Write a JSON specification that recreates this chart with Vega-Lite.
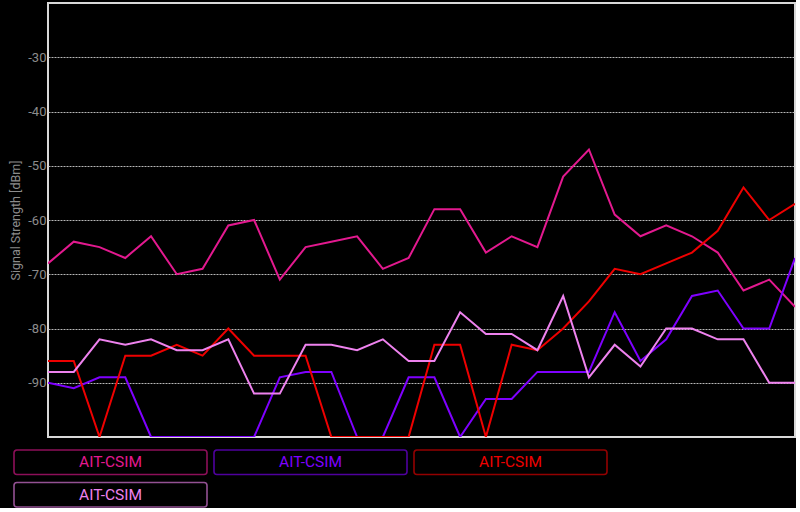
{
  "$schema": "https://vega.github.io/schema/vega-lite/v6.json",
  "background": "black",
  "padding": {"left": 8, "top": 2, "right": 0, "bottom": 0},
  "config": {"font": "Roboto", "view": {"stroke": "#d8d8d8", "strokeWidth": 2}},
  "spacing": 11,
  "datasets": {
    "signal": [
      {"i":0,"series":"A","dbm":-68},{"i":1,"series":"A","dbm":-64},{"i":2,"series":"A","dbm":-65},{"i":3,"series":"A","dbm":-67},{"i":4,"series":"A","dbm":-63},{"i":5,"series":"A","dbm":-70},{"i":6,"series":"A","dbm":-69},{"i":7,"series":"A","dbm":-61},{"i":8,"series":"A","dbm":-60},{"i":9,"series":"A","dbm":-71},{"i":10,"series":"A","dbm":-65},{"i":11,"series":"A","dbm":-64},{"i":12,"series":"A","dbm":-63},{"i":13,"series":"A","dbm":-69},{"i":14,"series":"A","dbm":-67},{"i":15,"series":"A","dbm":-58},{"i":16,"series":"A","dbm":-58},{"i":17,"series":"A","dbm":-66},{"i":18,"series":"A","dbm":-63},{"i":19,"series":"A","dbm":-65},{"i":20,"series":"A","dbm":-52},{"i":21,"series":"A","dbm":-47},{"i":22,"series":"A","dbm":-59},{"i":23,"series":"A","dbm":-63},{"i":24,"series":"A","dbm":-61},{"i":25,"series":"A","dbm":-63},{"i":26,"series":"A","dbm":-66},{"i":27,"series":"A","dbm":-73},{"i":28,"series":"A","dbm":-71},{"i":29,"series":"A","dbm":-76},
      {"i":0,"series":"B","dbm":-90},{"i":1,"series":"B","dbm":-91},{"i":2,"series":"B","dbm":-89},{"i":3,"series":"B","dbm":-89},{"i":4,"series":"B","dbm":-100},{"i":5,"series":"B","dbm":-100},{"i":6,"series":"B","dbm":-100},{"i":7,"series":"B","dbm":-100},{"i":8,"series":"B","dbm":-100},{"i":9,"series":"B","dbm":-89},{"i":10,"series":"B","dbm":-88},{"i":11,"series":"B","dbm":-88},{"i":12,"series":"B","dbm":-100},{"i":13,"series":"B","dbm":-100},{"i":14,"series":"B","dbm":-89},{"i":15,"series":"B","dbm":-89},{"i":16,"series":"B","dbm":-100},{"i":17,"series":"B","dbm":-93},{"i":18,"series":"B","dbm":-93},{"i":19,"series":"B","dbm":-88},{"i":20,"series":"B","dbm":-88},{"i":21,"series":"B","dbm":-88},{"i":22,"series":"B","dbm":-77},{"i":23,"series":"B","dbm":-86},{"i":24,"series":"B","dbm":-82},{"i":25,"series":"B","dbm":-74},{"i":26,"series":"B","dbm":-73},{"i":27,"series":"B","dbm":-80},{"i":28,"series":"B","dbm":-80},{"i":29,"series":"B","dbm":-67},
      {"i":0,"series":"C","dbm":-86},{"i":1,"series":"C","dbm":-86},{"i":2,"series":"C","dbm":-100},{"i":3,"series":"C","dbm":-85},{"i":4,"series":"C","dbm":-85},{"i":5,"series":"C","dbm":-83},{"i":6,"series":"C","dbm":-85},{"i":7,"series":"C","dbm":-80},{"i":8,"series":"C","dbm":-85},{"i":9,"series":"C","dbm":-85},{"i":10,"series":"C","dbm":-85},{"i":11,"series":"C","dbm":-100},{"i":12,"series":"C","dbm":-100},{"i":13,"series":"C","dbm":-100},{"i":14,"series":"C","dbm":-100},{"i":15,"series":"C","dbm":-83},{"i":16,"series":"C","dbm":-83},{"i":17,"series":"C","dbm":-100},{"i":18,"series":"C","dbm":-83},{"i":19,"series":"C","dbm":-84},{"i":20,"series":"C","dbm":-80},{"i":21,"series":"C","dbm":-75},{"i":22,"series":"C","dbm":-69},{"i":23,"series":"C","dbm":-70},{"i":24,"series":"C","dbm":-68},{"i":25,"series":"C","dbm":-66},{"i":26,"series":"C","dbm":-62},{"i":27,"series":"C","dbm":-54},{"i":28,"series":"C","dbm":-60},{"i":29,"series":"C","dbm":-57},
      {"i":0,"series":"D","dbm":-88},{"i":1,"series":"D","dbm":-88},{"i":2,"series":"D","dbm":-82},{"i":3,"series":"D","dbm":-83},{"i":4,"series":"D","dbm":-82},{"i":5,"series":"D","dbm":-84},{"i":6,"series":"D","dbm":-84},{"i":7,"series":"D","dbm":-82},{"i":8,"series":"D","dbm":-92},{"i":9,"series":"D","dbm":-92},{"i":10,"series":"D","dbm":-83},{"i":11,"series":"D","dbm":-83},{"i":12,"series":"D","dbm":-84},{"i":13,"series":"D","dbm":-82},{"i":14,"series":"D","dbm":-86},{"i":15,"series":"D","dbm":-86},{"i":16,"series":"D","dbm":-77},{"i":17,"series":"D","dbm":-81},{"i":18,"series":"D","dbm":-81},{"i":19,"series":"D","dbm":-84},{"i":20,"series":"D","dbm":-74},{"i":21,"series":"D","dbm":-89},{"i":22,"series":"D","dbm":-83},{"i":23,"series":"D","dbm":-87},{"i":24,"series":"D","dbm":-80},{"i":25,"series":"D","dbm":-80},{"i":26,"series":"D","dbm":-82},{"i":27,"series":"D","dbm":-82},{"i":28,"series":"D","dbm":-90},{"i":29,"series":"D","dbm":-90}
    ],
    "series": [
      {"series":"A","label":"AIT-CSIM"},
      {"series":"B","label":"AIT-CSIM"},
      {"series":"C","label":"AIT-CSIM"},
      {"series":"D","label":"AIT-CSIM"}
    ]
  },
  "vconcat": [
    {
      "width": 747,
      "height": 434,
      "data": {"name": "signal"},
      "mark": {"type": "line", "strokeWidth": 2, "clip": true},
      "encoding": {
        "x": {"field": "i", "type": "quantitative", "scale": {"domain": [0, 29], "nice": false, "zero": false}, "axis": null},
        "y": {
          "field": "dbm", "type": "quantitative",
          "scale": {"domain": [-100, -20], "nice": false, "zero": false},
          "axis": {
            "title": "Signal Strength [dBm]",
            "values": [-90, -80, -70, -60, -50, -40, -30],
            "labelExpr": "toString(datum.value)",
            "domain": false, "ticks": false,
            "grid": true, "gridColor": "#b8b8b8", "gridDash": [2, 1], "gridWidth": 1,
            "labelColor": "#8c8c8c", "labelFontSize": 13, "labelPadding": 2,
            "titleColor": "#8c8c8c", "titleFontSize": 12.5, "titleFontWeight": "normal", "titlePadding": 5
          }
        },
        "color": {
          "field": "series", "type": "nominal",
          "scale": {"domain": ["A", "B", "C", "D"], "range": ["#e3198f", "#7f00ff", "#ee0000", "#ee82ee"]},
          "legend": null
        }
      }
    },
    {
      "width": 593,
      "height": 57,
      "view": {"stroke": null},
      "data": {"name": "series"},
      "transform": [
        {"window": [{"op": "row_number", "as": "idx"}]},
        {"calculate": "(datum.idx - 1) % 3", "as": "col"},
        {"calculate": "floor((datum.idx - 1) / 3)", "as": "row"}
      ],
      "encoding": {
        "x": {"field": "col", "type": "ordinal", "scale": {"range": [-34, 559], "paddingInner": 0.035, "paddingOuter": 0}, "axis": null},
        "y": {"field": "row", "type": "ordinal", "scale": {"paddingInner": 0.246, "paddingOuter": 0}, "axis": null}
      },
      "layer": [
        {
          "mark": {"type": "rect", "fill": null, "strokeWidth": 1.6, "cornerRadius": 3, "strokeOpacity": 0.62},
          "encoding": {
            "stroke": {"field": "series", "type": "nominal", "scale": {"domain": ["A", "B", "C", "D"], "range": ["#e3198f", "#7f00ff", "#ee0000", "#ee82ee"]}, "legend": null}
          }
        },
        {
          "mark": {"type": "text", "fontSize": 15.5, "baseline": "middle", "align": "center"},
          "encoding": {
            "text": {"field": "label"},
            "fill": {"field": "series", "type": "nominal", "scale": {"domain": ["A", "B", "C", "D"], "range": ["#e3198f", "#7f00ff", "#ee0000", "#ee82ee"]}, "legend": null}
          }
        }
      ]
    }
  ]
}
